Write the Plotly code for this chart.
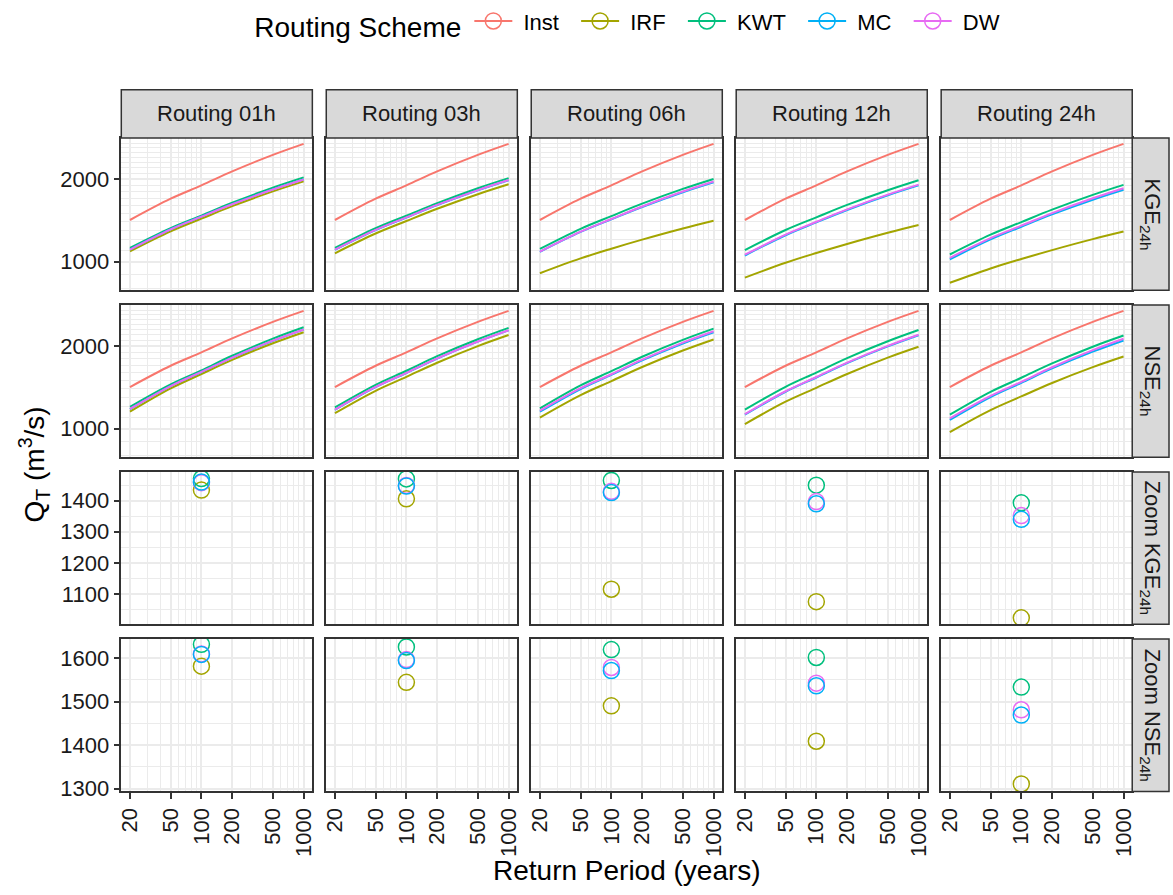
import plotly.graph_objects as go

# ---------------- data ----------------
T = [20, 50, 100, 200, 500, 1000]          # return period (years)
T_ZOOM = 100
routings = ["Routing 01h", "Routing 03h", "Routing 06h", "Routing 12h", "Routing 24h"]
row_labels = ["KGE<sub>24h</sub>", "NSE<sub>24h</sub>",
              "Zoom KGE<sub>24h</sub>", "Zoom NSE<sub>24h</sub>"]
schemes = ["Inst", "IRF", "KWT", "MC", "DW"]
colors = {"Inst": "#F8766D", "IRF": "#A3A500", "KWT": "#00BF7D",
          "MC": "#00B0F6", "DW": "#E76BF3"}

inst = [1418, 1695, 1895, 2131, 2447, 2683]

# KGE-calibrated, one list per routing time step (01h, 03h, 06h, 12h, 24h)
kge_irf = [[1091, 1290, 1434, 1592, 1802, 1960],
           [1073, 1266, 1406, 1558, 1760, 1912],
           [908, 1028, 1115, 1203, 1321, 1409],
           [875, 991, 1075, 1160, 1274, 1359],
           [838, 945, 1023, 1102, 1208, 1287]]
kge_kwt = [[1122, 1324, 1471, 1638, 1860, 2026],
           [1122, 1324, 1470, 1633, 1851, 2014],
           [1113, 1317, 1465, 1626, 1840, 2000],
           [1102, 1304, 1450, 1609, 1820, 1979],
           [1062, 1254, 1393, 1546, 1750, 1903]]
kge_mc = [[1107, 1312, 1460, 1620, 1833, 1993],
          [1105, 1303, 1447, 1607, 1819, 1979],
          [1086, 1283, 1426, 1581, 1789, 1944],
          [1053, 1248, 1390, 1542, 1744, 1895],
          [1019, 1205, 1340, 1486, 1680, 1826]]
kge_dw = [[1107, 1311, 1458, 1618, 1830, 1990],
          [1106, 1305, 1449, 1609, 1822, 1982],
          [1088, 1286, 1430, 1588, 1800, 1958],
          [1060, 1255, 1397, 1550, 1754, 1907],
          [1033, 1218, 1352, 1502, 1701, 1851]]

# NSE-calibrated
nse_irf = [[1153, 1401, 1581, 1780, 2046, 2245],
           [1139, 1374, 1544, 1738, 1998, 2192],
           [1098, 1325, 1490, 1677, 1925, 2112],
           [1040, 1254, 1409, 1582, 1814, 1987],
           [972, 1169, 1311, 1467, 1675, 1831]]
nse_kwt = [[1202, 1451, 1631, 1843, 2127, 2339],
           [1195, 1444, 1625, 1836, 2116, 2327],
           [1185, 1437, 1619, 1827, 2105, 2313],
           [1173, 1421, 1601, 1807, 2081, 2286],
           [1125, 1362, 1533, 1728, 1988, 2183]]
nse_mc = [[1179, 1428, 1608, 1814, 2088, 2294],
          [1172, 1417, 1594, 1800, 2074, 2279],
          [1153, 1395, 1571, 1773, 2043, 2245],
          [1125, 1363, 1536, 1732, 1993, 2189],
          [1077, 1304, 1469, 1657, 1907, 2095]]
nse_dw = [[1180, 1429, 1609, 1815, 2091, 2297],
          [1174, 1419, 1596, 1802, 2076, 2282],
          [1163, 1404, 1578, 1784, 2058, 2264],
          [1130, 1369, 1542, 1739, 2001, 2197],
          [1091, 1317, 1481, 1674, 1931, 2124]]

x_ticks = [20, 50, 100, 200, 500, 1000]
x_minor = [20, 30, 40, 50, 60, 70, 80, 90, 100, 200, 300, 400, 500, 600, 700, 800, 900, 1000]
y_ticks_main = [1000, 2000]
y_minor_main = list(range(700, 3000, 100))
y_ticks_zkge = [1100, 1200, 1300, 1400]
y_minor_zkge = [1050, 1150, 1250, 1350, 1450]
y_ticks_znse = [1300, 1400, 1500, 1600]
y_minor_znse = [1350, 1450, 1550]

# ---------------- layout geometry (pixels) ----------------
W, H = 1173, 895
col_left = [118, 324.2, 530.4, 736.6, 942.8]
col_w = 192.2
row_top = [137, 306.5, 476, 645.5]
row_h = 154.5
strip_top = 88
strip_right_w = 37

FONT = "Liberation Sans, Arial, Helvetica, sans-serif"
TXT = "#1A1A1A"
GRID = "#EBEBEB"
BORDER = "#333333"
NB = "\u00a0"

fig = go.Figure()

# legend entries
for s in schemes:
    fig.add_trace(go.Scatter(
        x=[None], y=[None], mode="lines+markers", name=NB + s + NB * 2,
        line=dict(color=colors[s], width=2),
        marker=dict(symbol="circle-open", size=16, color=colors[s], line=dict(width=1.5)),
        xaxis="x", yaxis="y", showlegend=True))

line_data = [
    {"IRF": kge_irf, "KWT": kge_kwt, "MC": kge_mc, "DW": kge_dw},
    {"IRF": nse_irf, "KWT": nse_kwt, "MC": nse_mc, "DW": nse_dw},
]
iz = T.index(T_ZOOM)

layout = {}
for r in range(4):
    for c in range(5):
        n = r * 5 + c + 1
        xa = "x" if n == 1 else f"x{n}"
        ya = "y" if n == 1 else f"y{n}"
        if r < 2:
            d = line_data[r]
            fig.add_trace(go.Scatter(x=T, y=inst, mode="lines", line=dict(color=colors["Inst"], width=2, shape="spline"),
                                     xaxis=xa, yaxis=ya, showlegend=False, name="Inst"))
            for s in ["IRF", "KWT", "MC", "DW"]:
                fig.add_trace(go.Scatter(x=T, y=d[s][c], mode="lines",
                                         line=dict(color=colors[s], width=2, shape="spline"),
                                         xaxis=xa, yaxis=ya, showlegend=False, name=s))
        else:
            d = line_data[r - 2]
            for s in ["IRF", "KWT", "DW", "MC"]:
                fig.add_trace(go.Scatter(x=[T_ZOOM], y=[d[s][c][iz]], mode="markers",
                                         marker=dict(symbol="circle-open", size=16, color=colors[s],
                                                     line=dict(width=1.5)),
                                         xaxis=xa, yaxis=ya, showlegend=False, name=s))
        x0 = col_left[c] / W
        x1 = (col_left[c] + col_w) / W
        y1 = 1 - row_top[r] / H
        y0 = 1 - (row_top[r] + row_h) / H
        bottom = (r == 3)
        left = (c == 0)
        xkey = "xaxis" if n == 1 else f"xaxis{n}"
        ykey = "yaxis" if n == 1 else f"yaxis{n}"
        layout[xkey] = dict(
            domain=[x0, x1], anchor=ya, type="log", range=[1.2162, 3.0850],
            tickvals=x_ticks, ticktext=[str(v) for v in x_ticks],
            showticklabels=bottom, ticks="outside" if bottom else "",
            ticklen=6, tickwidth=1.5, tickcolor=BORDER, tickangle=-90,
            tickfont=dict(family=FONT, size=22, color=TXT),
            showgrid=True, gridcolor=GRID, gridwidth=2,
            minor=dict(tickvals=x_minor, showgrid=True, gridcolor=GRID, gridwidth=1, ticks=""),
            showline=True, mirror=True, linecolor=BORDER, linewidth=1.5,
            zeroline=False, fixedrange=True)
        if r < 2:
            yspec = dict(type="log", range=[2.896, 3.450], tickvals=y_ticks_main,
                         minor=dict(tickvals=y_minor_main, showgrid=True, gridcolor=GRID, gridwidth=1, ticks=""))
        elif r == 2:
            yspec = dict(type="linear", range=[1002, 1492], tickvals=y_ticks_zkge,
                         minor=dict(tickvals=y_minor_zkge, showgrid=True, gridcolor=GRID, gridwidth=1, ticks=""))
        else:
            yspec = dict(type="linear", range=[1294, 1643], tickvals=y_ticks_znse,
                         minor=dict(tickvals=y_minor_znse, showgrid=True, gridcolor=GRID, gridwidth=1, ticks=""))
        layout[ykey] = dict(
            domain=[y0, y1], anchor=xa,
            showticklabels=left, ticks="outside" if left else "",
            ticklen=6, tickwidth=1.5, tickcolor=BORDER,
            tickfont=dict(family=FONT, size=22, color=TXT),
            showgrid=True, gridcolor=GRID, gridwidth=2,
            showline=True, mirror=True, linecolor=BORDER, linewidth=1.5,
            zeroline=False, fixedrange=True, **yspec)

shapes = []
annotations = []
# top strips
for c, lab in enumerate(routings):
    x0 = col_left[c] / W
    x1 = (col_left[c] + col_w) / W
    shapes.append(dict(type="rect", xref="paper", yref="paper", x0=x0, x1=x1,
                       y0=1 - row_top[0] / H, y1=1 - strip_top / H,
                       fillcolor="#D9D9D9", line=dict(color=BORDER, width=1.5), layer="above"))
    annotations.append(dict(text=lab, xref="paper", yref="paper", x=(x0 + x1) / 2,
                            y=1 - (strip_top + row_top[0]) / 2 / H, showarrow=False,
                            xanchor="center", yanchor="middle",
                            font=dict(family=FONT, size=22, color=TXT)))
# right strips
sx0 = (col_left[4] + col_w) / W
sx1 = (col_left[4] + col_w + strip_right_w) / W
for r, lab in enumerate(row_labels):
    y1 = 1 - row_top[r] / H
    y0 = 1 - (row_top[r] + row_h) / H
    shapes.append(dict(type="rect", xref="paper", yref="paper", x0=sx0, x1=sx1, y0=y0, y1=y1,
                       fillcolor="#D9D9D9", line=dict(color=BORDER, width=1.5), layer="above"))
    annotations.append(dict(text=lab, xref="paper", yref="paper", x=(sx0 + sx1) / 2,
                            y=(y0 + y1) / 2, showarrow=False, textangle=90,
                            xanchor="center", yanchor="middle",
                            font=dict(family=FONT, size=22, color=TXT)))
# axis titles
annotations.append(dict(text="Q<sub>T</sub> (m<sup>3</sup>/s)", xref="paper", yref="paper",
                        x=30 / W, y=1 - (row_top[0] + row_top[3] + row_h) / 2 / H,
                        showarrow=False, textangle=-90, xanchor="center", yanchor="middle",
                        font=dict(family=FONT, size=28, color="#000000")))
annotations.append(dict(text="Return Period (years)", xref="paper", yref="paper",
                        x=(col_left[0] + col_left[4] + col_w) / 2 / W, y=1 - 880 / H,
                        showarrow=False, xanchor="center", yanchor="middle",
                        font=dict(family=FONT, size=28, color="#000000")))

fig.update_layout(
    width=W, height=H,
    margin=dict(l=0, r=0, t=0, b=0),
    paper_bgcolor="white", plot_bgcolor="white",
    font=dict(family=FONT, color=TXT),
    shapes=shapes, annotations=annotations,
    legend=dict(orientation="h", x=0.541, xanchor="center", y=1 - 21 / H, yanchor="middle",
                title=dict(text="Routing Scheme", side="left", font=dict(family=FONT, size=28, color="#000000")),
                font=dict(family=FONT, size=22, color="#000000"),
                itemwidth=38, bgcolor="rgba(0,0,0,0)"),
    **layout)

fig.write_html("out.html",
               config={"displayModeBar": False},
               post_script="document.body.style.margin='0';document.body.style.padding='0';"
                           "document.body.style.overflow='hidden';")
